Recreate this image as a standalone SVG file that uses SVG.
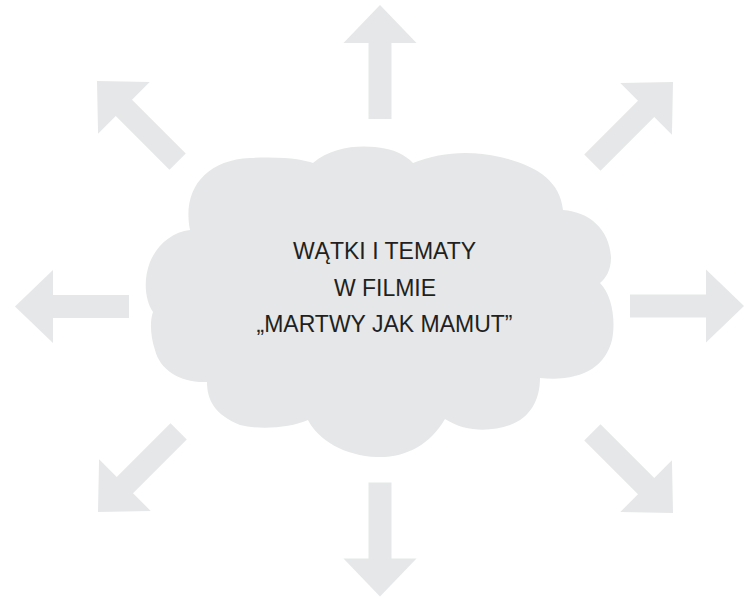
<svg xmlns="http://www.w3.org/2000/svg" xmlns:xlink="http://www.w3.org/1999/xlink" width="744" height="599" viewBox="0 0 744 599">
  <style>
    .shape { fill: #e6e7e8; stroke: none; }
    .label { font-family: "Liberation Sans", Arial, sans-serif; font-size: 23px; fill: #231f20; text-anchor: middle; }
  </style>
  <defs>
    <path id="arrow" class="shape" d="M 0 -57 L 36.5 -19 L 11.5 -19 L 11.5 57 L -11.5 57 L -11.5 -19 L -36.5 -19 Z"/>
  </defs>
  <rect width="744" height="599" fill="#ffffff"/>
  <g id="connectors">
    <use xlink:href="#arrow" href="#arrow" transform="translate(380 62)"/>
    <use xlink:href="#arrow" href="#arrow" transform="translate(380 539.5) rotate(180)"/>
    <use xlink:href="#arrow" href="#arrow" transform="translate(72 306.5) rotate(-90)"/>
    <use xlink:href="#arrow" href="#arrow" transform="translate(687 306) rotate(90)"/>
    <use xlink:href="#arrow" href="#arrow" transform="translate(137.3 121.3) rotate(-45)"/>
    <use xlink:href="#arrow" href="#arrow" transform="translate(632.7 122.3) rotate(45)"/>
    <use xlink:href="#arrow" href="#arrow" transform="translate(138.3 471.7) rotate(-135)"/>
    <use xlink:href="#arrow" href="#arrow" transform="translate(632.7 472.7) rotate(135)"/>
  </g>
  <g id="cloud">
    <path class="shape" d="M 190 230
      C 182 190, 205 160, 250 158
      C 285 156, 305 160, 313 163
      C 330 148, 355 145, 375 147
      C 395 149, 405 155, 413 163
      C 440 152, 470 150, 500 157
      C 535 165, 560 180, 563 210
      C 590 212, 610 230, 611 258
      C 611 270, 606 278, 600 283
      C 612 295, 616 320, 612 340
      C 605 368, 580 382, 540 378
      C 540 400, 530 418, 510 425
      C 490 432, 465 432, 445 419
      C 430 445, 405 458, 377 457
      C 345 456, 318 440, 308 420
      C 290 428, 260 430, 240 425
      C 215 415, 207 400, 207 382
      C 180 383, 160 370, 155 350
      C 150 335, 150 320, 153 312
      C 145 300, 143 280, 150 262
      C 157 245, 172 232, 190 230 Z"/>
    <text class="label" x="384.5" y="259">WĄTKI I TEMATY</text>
    <text class="label" x="385" y="295.5">W FILMIE</text>
    <text class="label" x="384.5" y="332">„MARTWY JAK MAMUT”</text>
  </g>
</svg>
